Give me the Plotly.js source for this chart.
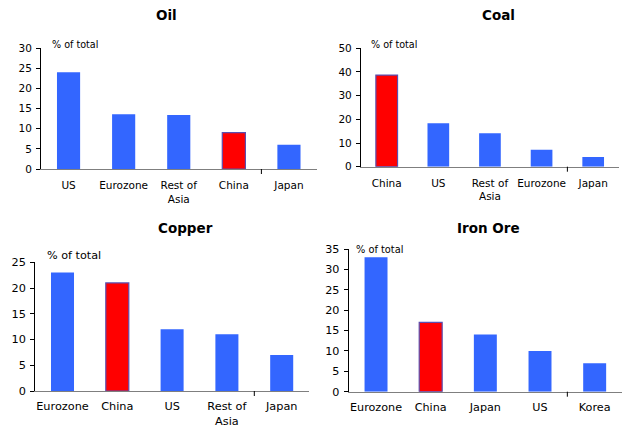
<!DOCTYPE html>
<html>
<head>
<meta charset="utf-8">
<script src="https://cdn.plot.ly/plotly-3.0.1.min.js"></script>
<style>html,body{margin:0;padding:0;background:#fff;}#chart{width:631px;height:428px;}</style>
</head>
<body>
<div id="chart"></div>
<script>
const oilCats = ["US", "Eurozone", "Rest of<br>Asia", "China", "Japan"];
const oilVals = [24, 13.6, 13.4, 9, 6];
const coalCats = ["China", "US", "Rest of<br>Asia", "Eurozone", "Japan"];
const coalVals = [38.7, 18.4, 14.1, 7.2, 4.1];
const copperCats = ["Eurozone", "China", "US", "Rest of<br>Asia", "Japan"];
const copperVals = [23, 21, 12, 11, 7];
const ironCats = ["Eurozone", "China", "Japan", "US", "Korea"];
const ironVals = [33, 17, 14, 10, 7];

const BLUE = "#3366FF", RED = "#FF0000";
const FONT = "DejaVu Sans, Verdana, sans-serif";
const W = 631, H = 428;

function colors(cats) { return cats.map(c => c === "China" ? RED : BLUE); }
function lineColors(cats) { return cats.map(c => c === "China" ? "#5a4fb0" : BLUE); }
function lineWidths(cats) { return cats.map(c => c === "China" ? 1.2 : 0); }

const panels = [
  {cats: oilCats, vals: oilVals, xa: "x", ya: "y", xd: [41, 316.5], yd: [169, 48], range: [0, 30], dtick: 5, fs: 10.5, so: 6},
  {cats: coalCats, vals: coalVals, xa: "x2", ya: "y2", xd: [360.9, 619], yd: [166.7, 48.3], range: [0, 50], dtick: 10, fs: 10.5, so: 6},
  {cats: copperCats, vals: copperVals, xa: "x3", ya: "y3", xd: [35.1, 309.1], yd: [391, 262.3], range: [0, 25], dtick: 5, fs: 11.3, so: 4},
  {cats: ironCats, vals: ironVals, xa: "x4", ya: "y4", xd: [348.7, 622], yd: [391.7, 249], range: [0, 35], dtick: 5, fs: 11.2, so: 5}
];

const data = panels.map(p => ({
  type: "bar", x: p.cats, y: p.vals, xaxis: p.xa, yaxis: p.ya,
  marker: {color: colors(p.cats), line: {color: lineColors(p.cats), width: lineWidths(p.cats)}},
  hoverinfo: "x+y", showlegend: false
}));

const layout = {
  width: W, height: H, margin: {l: 0, r: 0, t: 0, b: 0},
  paper_bgcolor: "#fff", plot_bgcolor: "#fff",
  font: {family: FONT, color: "#000"},
  bargap: 0.58, showlegend: false,
  annotations: [], shapes: []
};

panels.forEach((p, i) => {
  const sx = i === 0 ? "" : String(i + 1);
  const d0 = p.xd[0] / W, d1 = p.xd[1] / W;
  layout["xaxis" + sx] = {
    domain: [d0, d1], anchor: "y" + sx,
    type: "category", range: [-0.5, 4.5],
    showline: true, linecolor: "#7f7f7f", linewidth: 1.3,
    showgrid: false, zeroline: false, ticks: "",
    ticklabelstandoff: p.so,
    tickfont: {family: FONT, size: p.fs, color: "#000"}, fixedrange: true
  };
  layout["yaxis" + sx] = {
    domain: [1 - p.yd[0] / H, 1 - p.yd[1] / H], anchor: "x" + sx,
    range: p.range, dtick: p.dtick, tick0: 0,
    showline: true, linecolor: "#000", linewidth: 1,
    ticks: "outside", ticklen: 4, tickcolor: "#000", tickwidth: 1,
    ticklabelstandoff: 2,
    showgrid: false, zeroline: false,
    tickfont: {family: FONT, size: p.fs, color: "#000"}, fixedrange: true
  };
  // small divider tick below the axis between the 4th and 5th category
  const xt = d0 + (d1 - d0) * 0.8;
  const yb = 1 - p.yd[0] / H;
  layout.shapes.push({
    type: "line", xref: "paper", yref: "paper",
    x0: xt, x1: xt, y0: yb, y1: yb - 5 / H, line: {color: "#000", width: 1}
  });
});

const titles = [
  {t: "Oil", x: 166, y: 15},
  {t: "Coal", x: 498, y: 15},
  {t: "Copper", x: 185, y: 228},
  {t: "Iron Ore", x: 488, y: 228}
];
titles.forEach(a => layout.annotations.push({
  text: "<b>" + a.t + "</b>", xref: "paper", yref: "paper",
  x: a.x / W, y: 1 - a.y / H, xanchor: "center", yanchor: "middle",
  showarrow: false, font: {family: FONT, size: 13.5, color: "#000"}
}));

const units = [
  {x: 50, y: 44, s: 9.6},
  {x: 369.3, y: 44, s: 9.6},
  {x: 45, y: 255.7, s: 11.2},
  {x: 354.3, y: 249, s: 9.8}
];
units.forEach(u => layout.annotations.push({
  text: "% of total", xref: "paper", yref: "paper",
  x: u.x / W, y: 1 - u.y / H, xanchor: "left", yanchor: "middle",
  showarrow: false, font: {family: FONT, size: u.s, color: "#000"}
}));

Plotly.newPlot("chart", data, layout, {displayModeBar: false, staticPlot: true});
</script>
</body>
</html>
